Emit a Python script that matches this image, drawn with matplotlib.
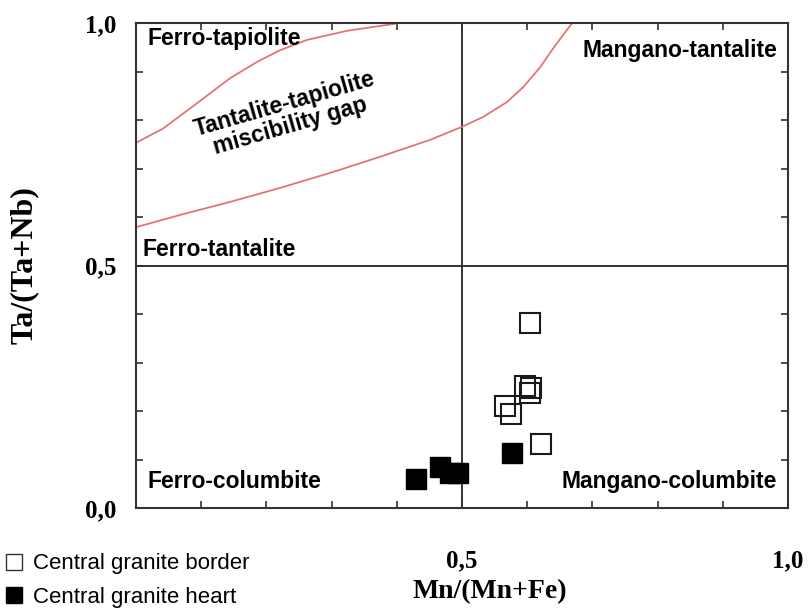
import matplotlib
matplotlib.use("Agg")
import matplotlib.pyplot as plt
from matplotlib.lines import Line2D

# --- data ---
border_x = [0.604, 0.597, 0.606, 0.604, 0.566, 0.575, 0.621]
border_y = [0.382, 0.252, 0.247, 0.237, 0.210, 0.194, 0.132]

heart_x = [0.429, 0.467, 0.481, 0.494, 0.576]
heart_y = [0.059, 0.084, 0.073, 0.073, 0.114]

upper_curve_x = [0.0, 0.041, 0.094, 0.144, 0.186, 0.221, 0.262, 0.324, 0.405]
upper_curve_y = [0.753, 0.782, 0.835, 0.886, 0.920, 0.944, 0.965, 0.984, 1.0]

lower_curve_x = [0.0, 0.067, 0.144, 0.221, 0.298, 0.374, 0.451, 0.5,
                 0.532, 0.569, 0.594, 0.620, 0.640, 0.655, 0.669]
lower_curve_y = [0.579, 0.604, 0.631, 0.660, 0.691, 0.724, 0.759, 0.786,
                 0.806, 0.837, 0.868, 0.909, 0.948, 0.975, 1.0]

tick_values = [0.0, 0.1, 0.2, 0.3, 0.4, 0.5, 0.6, 0.7, 0.8, 0.9, 1.0]
x_tick_labels = ["", "", "", "", "", "0,5", "", "", "", "", "1,0"]
y_tick_labels = ["0,0", "", "", "", "", "0,5", "", "", "", "", "1,0"]

region_labels = ["Ferro-tapiolite", "Mangano-tantalite", "Ferro-tantalite",
                 "Ferro-columbite", "Mangano-columbite"]
legend_labels = ["Central granite border", "Central granite heart"]

# --- figure ---
fig = plt.figure(figsize=(8.08, 6.08), dpi=100)
ax = fig.add_axes([136/808, 100/608, 652/808, 485/608])

spine_col = "#333333"
red = "#e57373"

ax.set_xlim(0, 1)
ax.set_ylim(0, 1)

ax.axvline(0.5, color="#333333", lw=1.4, zorder=1)
ax.axhline(0.5, color="#333333", lw=1.4, zorder=1)

ax.plot(upper_curve_x, upper_curve_y, color=red, lw=1.3, zorder=2)
ax.plot(lower_curve_x, lower_curve_y, color=red, lw=1.3, zorder=2)

ax.plot(heart_x, heart_y, ls="none", marker="s", ms=15, mfc="black",
        mec="black", mew=1.0, zorder=3)
ax.plot(border_x, border_y, ls="none", marker="s", ms=15, mfc="none",
        mec="#1a1a1a", mew=1.5, zorder=4)

lab_kw = dict(fontsize=16.5, fontweight="bold", family="Liberation Sans",
              color="black", zorder=5)
ax.text(0.018, 0.968, region_labels[0], ha="left", va="center", **lab_kw)
ax.text(0.983, 0.944, region_labels[1], ha="right", va="center", **lab_kw)
ax.text(0.010, 0.532, region_labels[2], ha="left", va="center", **lab_kw)
ax.text(0.018, 0.054, region_labels[3], ha="left", va="center", **lab_kw)
ax.text(0.983, 0.054, region_labels[4], ha="right", va="center", **lab_kw)
ax.text(0.232, 0.810, "Tantalite-tapiolite\nmiscibility gap", ha="center",
        va="center", rotation=16, rotation_mode="anchor", linespacing=1.0,
        **lab_kw)

ax.set_xticks(tick_values)
ax.set_yticks(tick_values)
ax.set_xticklabels(x_tick_labels)
ax.set_yticklabels(y_tick_labels)
ax.tick_params(direction="in", length=5, width=1.2, color=spine_col,
               top=True, right=True)
ax.tick_params(axis="x", pad=30)
ax.tick_params(axis="y", pad=14)
for lbl in ax.get_xticklabels() + ax.get_yticklabels():
    lbl.set_family("Liberation Serif")
    lbl.set_fontweight("bold")
    lbl.set_fontsize(18)

for s in ax.spines.values():
    s.set_color(spine_col)
    s.set_linewidth(1.5)

fig.text(490/808, 1 - 592/608, "Mn/(Mn+Fe)", ha="center", va="center",
         family="Liberation Serif", fontweight="bold", fontsize=20)
fig.text(24/808, 1 - 265/608, "Ta/(Ta+Nb)", ha="center", va="center",
         rotation=90, family="Liberation Serif", fontweight="bold", fontsize=23)

handles = [
    Line2D([], [], ls="none", marker="s", ms=11, mfc="white", mec="#333333", mew=1.0),
    Line2D([], [], ls="none", marker="s", ms=11, mfc="black", mec="black"),
]
fig.legend(handles, legend_labels, loc="upper left",
           bbox_to_anchor=(0.0, 1 - 550/608), bbox_transform=fig.transFigure,
           frameon=False, handletextpad=0.35, handlelength=1.0,
           labelspacing=0.55, borderaxespad=0, borderpad=0.15,
           prop={"family": "Liberation Sans", "size": 16})

fig.savefig("out.png", dpi=100)
